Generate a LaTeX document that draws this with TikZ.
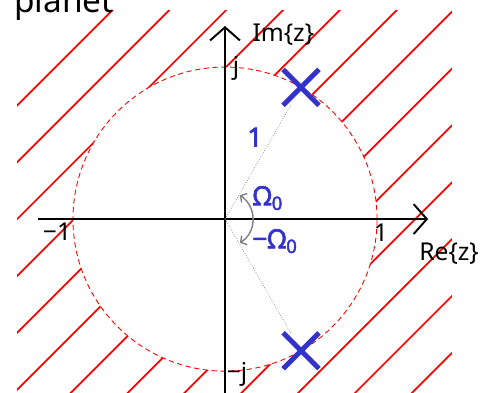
\documentclass[tikz,border=0pt]{standalone}
\usepackage{fontspec}
\setmainfont{Noto Sans}
\newfontfamily\penfont[FakeBold=2.5]{Noto Sans}
\usetikzlibrary{arrows.meta,shapes.misc}
\definecolor{penblue}{RGB}{51,51,204}
\begin{document}
\begin{tikzpicture}[x=3.04cm,y=3.04cm,font=\fontsize{14}{16}\selectfont]
\tikzset{axis/.style={line width=1.1pt,-{Straight Barb[length=7.5pt,width=17pt]}},
  hatch/.style={red,line width=1pt},
  pole/.style={cross out,draw=penblue,line width=2.8pt,minimum size=0.62cm,inner sep=0pt},
  pen/.style={text=penblue,font=\fontsize{15}{17}\penfont}}
\useasboundingbox (-1.480,-1.138) rectangle (1.789,1.441);
% Hatching outside the unit circle
\begin{scope}[even odd rule]
\clip (-1.368,-1.3) rectangle (1.493,1.375) (0,0) circle (1);
\foreach \k in {0,...,12}
  \draw[hatch] (-1.6,{-1.6+2.115-0.374*\k}) -- (1.7,{1.7+2.115-0.374*\k});
\end{scope}
\draw[red,line width=0.5pt,dash pattern=on 3pt off 2pt] (0,0) circle (1);
%%%
\node[anchor=base west,font=\fontsize{19}{22}\selectfont] (title) at (-1.428,1.362) {planet};
\draw[axis] (-1.23,0) -- (1.336,0);
\draw[axis] (0,-1.2) -- (0,1.27);
\node[anchor=west] (imlabel) at (0.14,1.215) {Im\{z\}};
\node (relabel) at (1.474,-0.225) {Re\{z\}};
\node (jlabel) at (0.072,0.99) {j};
\node (mjlabel) at (0.079,-1.02) {−j};
\node (mone) at (-1.105,-0.08) {−1};
\node (one) at (1.026,-0.092) {1};
%%%
\coordinate (o) at (0,0);
\node[pole] (p1) at (60:1) {};
\node[pole] (p2) at (-60:1) {};
\draw[gray,densely dotted] (o) -- (p1);
\draw[gray,densely dotted] (o) -- (p2);
\draw[gray,line width=0.8pt,{Straight Barb[length=2.5pt,width=6pt]}-{Straight Barb[length=2.5pt,width=6pt]}]
  (-58:0.185) arc (-58:58:0.185);
\node[pen] (radius) at (0.197,0.539) {1};
\node[pen] (wplus) at (0.283,0.138) {Ω\textsubscript{0}};
\node[pen] (wminus) at (0.329,-0.145) {−Ω\textsubscript{0}};
\end{tikzpicture}
\end{document}
